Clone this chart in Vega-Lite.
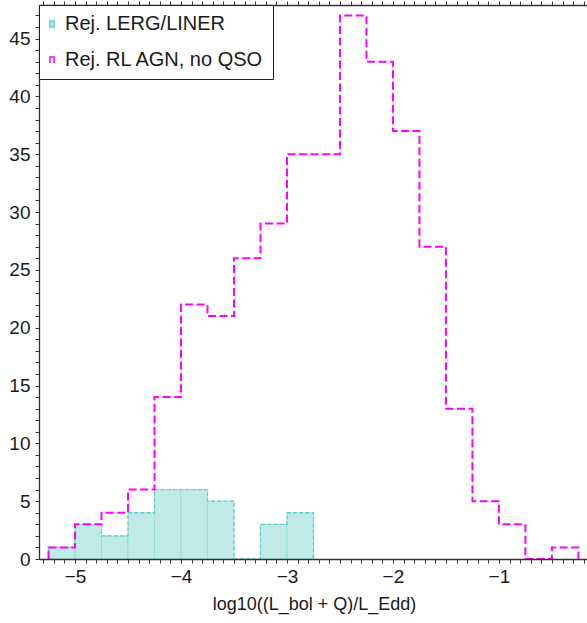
{
  "$schema": "https://vega.github.io/schema/vega-lite/v6.json",
  "width": 550,
  "height": 554,
  "autosize": {"type": "none"},
  "padding": {"left": 39, "top": 5, "right": 0, "bottom": 64},
  "background": "white",
  "config": {
    "view": {"stroke": null},
    "font": "Liberation Sans"
  },
  "datasets": {
    "bins": [
      {"series": "Rej. LERG/LINER", "x0": -5.25, "x1": -5.25, "n": 0},
      {"series": "Rej. LERG/LINER", "x0": -5.25, "x1": -5.0, "n": 1},
      {"series": "Rej. LERG/LINER", "x0": -5.0, "x1": -4.75, "n": 3},
      {"series": "Rej. LERG/LINER", "x0": -4.75, "x1": -4.5, "n": 2},
      {"series": "Rej. LERG/LINER", "x0": -4.5, "x1": -4.25, "n": 4},
      {"series": "Rej. LERG/LINER", "x0": -4.25, "x1": -4.0, "n": 6},
      {"series": "Rej. LERG/LINER", "x0": -4.0, "x1": -3.75, "n": 6},
      {"series": "Rej. LERG/LINER", "x0": -3.75, "x1": -3.5, "n": 5},
      {"series": "Rej. LERG/LINER", "x0": -3.5, "x1": -3.25, "n": 0},
      {"series": "Rej. LERG/LINER", "x0": -3.25, "x1": -3.0, "n": 3},
      {"series": "Rej. LERG/LINER", "x0": -3.0, "x1": -2.75, "n": 4},
      {"series": "Rej. LERG/LINER", "x0": -2.75, "x1": -2.75, "n": 0},
      {"series": "Rej. RL AGN, no QSO", "x0": -5.25, "x1": -5.25, "n": 0},
      {"series": "Rej. RL AGN, no QSO", "x0": -5.25, "x1": -5.0, "n": 1},
      {"series": "Rej. RL AGN, no QSO", "x0": -5.0, "x1": -4.75, "n": 3},
      {"series": "Rej. RL AGN, no QSO", "x0": -4.75, "x1": -4.5, "n": 4},
      {"series": "Rej. RL AGN, no QSO", "x0": -4.5, "x1": -4.25, "n": 6},
      {"series": "Rej. RL AGN, no QSO", "x0": -4.25, "x1": -4.0, "n": 14},
      {"series": "Rej. RL AGN, no QSO", "x0": -4.0, "x1": -3.75, "n": 22},
      {"series": "Rej. RL AGN, no QSO", "x0": -3.75, "x1": -3.5, "n": 21},
      {"series": "Rej. RL AGN, no QSO", "x0": -3.5, "x1": -3.25, "n": 26},
      {"series": "Rej. RL AGN, no QSO", "x0": -3.25, "x1": -3.0, "n": 29},
      {"series": "Rej. RL AGN, no QSO", "x0": -3.0, "x1": -2.75, "n": 35},
      {"series": "Rej. RL AGN, no QSO", "x0": -2.75, "x1": -2.5, "n": 35},
      {"series": "Rej. RL AGN, no QSO", "x0": -2.5, "x1": -2.25, "n": 47},
      {"series": "Rej. RL AGN, no QSO", "x0": -2.25, "x1": -2.0, "n": 43},
      {"series": "Rej. RL AGN, no QSO", "x0": -2.0, "x1": -1.75, "n": 37},
      {"series": "Rej. RL AGN, no QSO", "x0": -1.75, "x1": -1.5, "n": 27},
      {"series": "Rej. RL AGN, no QSO", "x0": -1.5, "x1": -1.25, "n": 13},
      {"series": "Rej. RL AGN, no QSO", "x0": -1.25, "x1": -1.0, "n": 5},
      {"series": "Rej. RL AGN, no QSO", "x0": -1.0, "x1": -0.75, "n": 3},
      {"series": "Rej. RL AGN, no QSO", "x0": -0.75, "x1": -0.5, "n": 0},
      {"series": "Rej. RL AGN, no QSO", "x0": -0.5, "x1": -0.25, "n": 1},
      {"series": "Rej. RL AGN, no QSO", "x0": -0.25, "x1": -0.25, "n": 0}
    ]
  },
  "resolve": {"axis": {"x": "independent", "y": "independent"}},
  "layer": [
    {
      "data": {"name": "bins"},
      "transform": [{"filter": "datum.series === 'Rej. LERG/LINER' && datum.n > 0"}],
      "mark": {"type": "rect", "fill": "#bfeae8", "stroke": "#6fd0cd", "strokeWidth": 0.6, "strokeOpacity": 0.7, "clip": true},
      "encoding": {
        "x": {
          "field": "x0", "type": "quantitative",
          "scale": {"domain": [-5.34, -0.15], "nice": false, "zero": false},
          "axis": {
            "orient": "bottom",
            "values": [-5.3,-5.2,-5.1,-5,-4.9,-4.8,-4.7,-4.6,-4.5,-4.4,-4.3,-4.2,-4.1,-4,-3.9,-3.8,-3.7,-3.6,-3.5,-3.4,-3.3,-3.2,-3.1,-3,-2.9,-2.8,-2.7,-2.6,-2.5,-2.4,-2.3,-2.2,-2.1,-2,-1.9,-1.8,-1.7,-1.6,-1.5,-1.4,-1.3,-1.2,-1.1,-1,-0.9,-0.8,-0.7,-0.6,-0.5,-0.4,-0.3,-0.2],
            "labelExpr": "abs(datum.value - round(datum.value)) < 0.001 ? format(datum.value, 'd') : ''",
            "grid": false,
            "ticks": true,
            "tickSize": 4,
            "tickColor": "#333",
            "tickWidth": 1,
            "domainColor": "#333",
            "domainWidth": 1.3,
            "labelPadding": 4,
            "labelFontSize": 19,
            "labelColor": "#1a1a1a",
            "labelOverlap": false,
            "labelFlush": false,
            "title": "log10((L_bol + Q)/L_Edd)",
            "titleFontSize": 18,
            "titleFontWeight": "normal",
            "titleColor": "#1a1a1a",
            "titlePadding": 9,
            "zindex": 1,
            "encode": {
              "ticks": {"update": {
                "y": {"signal": "abs(datum.value - round(datum.value)) < 0.001 ? 3 : 0"},
                "y2": {"signal": "abs(datum.value - round(datum.value)) < 0.001 ? -4 : -2.5"}
              }}
            }
          }
        },
        "x2": {"field": "x1"},
        "y": {
          "field": "n", "type": "quantitative",
          "scale": {"domain": [0, 47.9], "nice": false, "zero": true},
          "axis": {
            "orient": "left",
            "values": [0,1,2,3,4,5,6,7,8,9,10,11,12,13,14,15,16,17,18,19,20,21,22,23,24,25,26,27,28,29,30,31,32,33,34,35,36,37,38,39,40,41,42,43,44,45,46,47],
            "labelExpr": "datum.value % 5 === 0 ? format(datum.value, 'd') : ''",
            "grid": false,
            "ticks": true,
            "tickSize": 4,
            "tickColor": "#333",
            "tickWidth": 1,
            "domainColor": "#333",
            "domainWidth": 1.3,
            "labelPadding": 5,
            "labelFontSize": 19,
            "labelColor": "#1a1a1a",
            "labelOverlap": false,
            "labelFlush": false,
            "title": null,
            "zindex": 1,
            "encode": {
              "ticks": {"update": {
                "x": {"signal": "datum.value % 5 === 0 ? -3 : 0"},
                "x2": {"signal": "datum.value % 5 === 0 ? 4 : 2.5"}
              }}
            }
          }
        },
        "y2": {"datum": 0}
      }
    },
    {
      "data": {"name": "bins"},
      "transform": [
        {"filter": "datum.series === 'Rej. LERG/LINER'"},
        {"fold": ["x0", "x1"], "as": ["edge", "x"]}
      ],
      "mark": {"type": "line", "strokeWidth": 1.3, "strokeDash": [4, 2.2], "clip": true},
      "encoding": {
        "x": {
          "field": "x", "type": "quantitative",
          "scale": {"domain": [-5.34, -0.15], "nice": false, "zero": false},
          "axis": {
            "orient": "top",
            "values": [-5.3,-5.2,-5.1,-5,-4.9,-4.8,-4.7,-4.6,-4.5,-4.4,-4.3,-4.2,-4.1,-4,-3.9,-3.8,-3.7,-3.6,-3.5,-3.4,-3.3,-3.2,-3.1,-3,-2.9,-2.8,-2.7,-2.6,-2.5,-2.4,-2.3,-2.2,-2.1,-2,-1.9,-1.8,-1.7,-1.6,-1.5,-1.4,-1.3,-1.2,-1.1,-1,-0.9,-0.8,-0.7,-0.6,-0.5,-0.4,-0.3,-0.2],
            "labels": false,
            "grid": false,
            "ticks": true,
            "tickSize": 4,
            "tickColor": "#333",
            "tickWidth": 1,
            "domainColor": "#333",
            "domainWidth": 1.3,
            "title": null,
            "zindex": 1,
            "encode": {
              "ticks": {"update": {
                "y": {"signal": "abs(datum.value - round(datum.value)) < 0.001 ? -2 : 0"},
                "y2": {"signal": "abs(datum.value - round(datum.value)) < 0.001 ? 4 : 2.5"}
              }}
            }
          }
        },
        "y": {
          "field": "n", "type": "quantitative",
          "scale": {"domain": [0, 47.9], "nice": false, "zero": true},
          "axis": {
            "orient": "right",
            "values": [0,1,2,3,4,5,6,7,8,9,10,11,12,13,14,15,16,17,18,19,20,21,22,23,24,25,26,27,28,29,30,31,32,33,34,35,36,37,38,39,40,41,42,43,44,45,46,47],
            "labels": false,
            "grid": false,
            "ticks": true,
            "tickSize": 4,
            "tickColor": "#333",
            "tickWidth": 1,
            "domainColor": "#333",
            "domainWidth": 1.3,
            "title": null,
            "zindex": 1,
            "encode": {
              "ticks": {"update": {
                "x": {"signal": "datum.value % 5 === 0 ? 2 : 0"},
                "x2": {"signal": "datum.value % 5 === 0 ? -4 : -2.5"}
              }}
            }
          }
        },
        "order": [{"field": "x", "type": "quantitative"}, {"field": "edge", "sort": "descending"}],
        "color": {
          "field": "series", "type": "nominal",
          "scale": {"domain": ["Rej. LERG/LINER", "Rej. RL AGN, no QSO"], "range": ["#5ccfcb", "#ff00ff"]},
          "legend": {
            "orient": "top-left",
            "offset": 0,
            "title": null,
            "strokeColor": "#222",
            "fillColor": "white",
            "padding": 9,
            "rowPadding": 16,
            "labelFontSize": 20,
            "labelColor": "#1a1a1a",
            "labelOffset": 3,
            "labelLimit": 400,
            "symbolSize": 36,
            "symbolOffset": -6,
            "cornerRadius": 0,
            "zindex": 2,
            "encode": {
              "symbols": {"update": {
                "shape": {"signal": "datum.value === 'Rej. LERG/LINER' ? 'M-0.7,-1H0.7V1H-0.7Z' : 'M-0.7,1V-1H0.7V1'"},
                "fill": {"signal": "datum.value === 'Rej. LERG/LINER' ? '#bfeae8' : 'transparent'"},
                "stroke": {"signal": "datum.value === 'Rej. LERG/LINER' ? '#7fd8d5' : '#ff00ff'"},
                "strokeWidth": {"value": 1.5},
                "strokeDash": {"value": []},
                "opacity": {"value": 1}
              }}
            }
          }
        }
      }
    },
    {
      "data": {"name": "bins"},
      "transform": [
        {"filter": "datum.series === 'Rej. RL AGN, no QSO'"},
        {"fold": ["x0", "x1"], "as": ["edge", "x"]}
      ],
      "mark": {"type": "line", "strokeWidth": 2, "strokeDash": [8, 3.5], "clip": true},
      "encoding": {
        "x": {"field": "x", "type": "quantitative", "scale": {"domain": [-5.34, -0.15], "nice": false, "zero": false}, "axis": null},
        "y": {"field": "n", "type": "quantitative", "scale": {"domain": [0, 47.9], "nice": false, "zero": true}, "axis": null},
        "order": [{"field": "x", "type": "quantitative"}, {"field": "edge", "sort": "descending"}],
        "color": {"field": "series", "type": "nominal"}
      }
    }
  ]
}
